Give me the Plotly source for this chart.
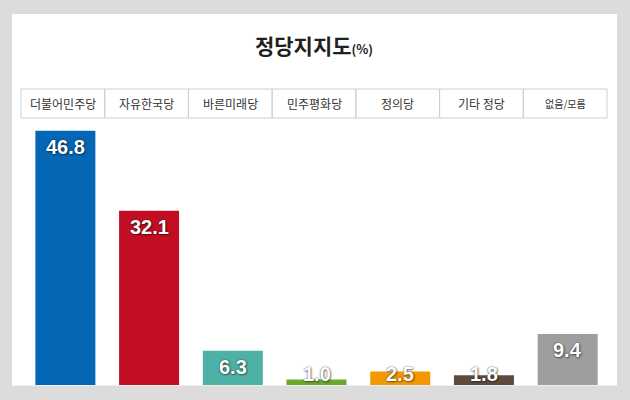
import plotly.graph_objects as go

# Party support survey (%)
parties = ["더불어민주당", "자유한국당", "바른미래당", "민주평화당", "정의당", "기타 정당", "없음/모름"]
support = [46.8, 32.1, 6.3, 1.0, 2.5, 1.8, 9.4]
bar_colors = ["#0467b5", "#c30d23", "#4eb1a6", "#6ca72e", "#f39800", "#5e4b3d", "#9e9e9e"]

# ---- layout geometry (pixels) ----
W, H = 630, 400
PLOT_L, PLOT_R = 21, 607
PLOT_T, PLOT_B = 89, 385
HEADER_B = 118
PANEL = dict(l=12, r=617, t=14, b=385.5)
Y_MAX = 54.5
BAR_SHIFT = 0.03  # bars sit slightly right of the header cells
plot_w = PLOT_R - PLOT_L
plot_h = PLOT_B - PLOT_T
px_per_unit = plot_h / Y_MAX


def px_x(x):
    return (x - PLOT_L) / plot_w


def px_y(y):
    return (PLOT_B - y) / plot_h


header_sizes = [12, 12, 12, 12, 12, 12, 10]
n = len(parties)

fig = go.Figure(
    go.Bar(
        x=parties,
        y=support,
        marker=dict(color=bar_colors, line=dict(width=0)),
        hoverinfo="skip",
    )
)

shapes = [
    # white card
    dict(type="rect", xref="paper", yref="paper", layer="below",
         x0=px_x(PANEL["l"]), x1=px_x(PANEL["r"]),
         y0=px_y(PANEL["b"]), y1=px_y(PANEL["t"]),
         fillcolor="white", line=dict(width=0)),
]

annotations = []

# header row: one bordered cell per party
for i, name in enumerate(parties):
    shapes.append(dict(
        type="rect", xref="paper", yref="paper",
        x0=i / n, x1=(i + 1) / n, y0=px_y(HEADER_B), y1=1,
        line=dict(color="#cfcfcf", width=1), fillcolor="rgba(0,0,0,0)",
    ))
    annotations.append(dict(
        xref="paper", yref="paper", x=(i + 0.5) / n,
        y=(px_y(HEADER_B) + 1) / 2, text=name, showarrow=False,
        xanchor="center", yanchor="middle",
        font=dict(family="Noto Sans CJK KR", size=header_sizes[i], color="#333333"),
    ))

# value labels near the top of each bar, kept above the card's bottom edge
for name, v in zip(parties, support):
    label_y = max(v - 16 / px_per_unit, 11 / px_per_unit)
    annotations.append(dict(
        xref="x", yref="y", x=name, y=label_y, text=f"{v:.1f}",
        showarrow=False, xanchor="center", yanchor="middle",
        font=dict(family="Liberation Sans, Arial", size=20, color="white",
                  weight="bold",
                  shadow="0px 0px 1.5px rgba(0,0,0,0.8), 1px 1px 2px rgba(0,0,0,0.4)"),
    ))

fig.update_layout(
    width=W, height=H,
    margin=dict(l=PLOT_L, r=W - PLOT_R, t=PLOT_T, b=H - PLOT_B),
    paper_bgcolor="#dcdcdc",
    plot_bgcolor="rgba(0,0,0,0)",
    showlegend=False,
    bargap=1 - 60 / (plot_w / n),
    title=dict(
        text="<b>정당지지도</b><span style='font-size:12.5px'><b>(%)</b></span>",
        x=0.5, xref="paper", xanchor="center",
        y=1 - 47 / H, yref="container", yanchor="middle",
        font=dict(family="Noto Sans CJK KR", size=21, color="#231f20"),
    ),
    xaxis=dict(range=[-0.5 - BAR_SHIFT, n - 0.5 - BAR_SHIFT],
               showticklabels=False, showgrid=False, zeroline=False,
               showline=False, ticks="", fixedrange=True),
    yaxis=dict(range=[0, Y_MAX], showticklabels=False, showgrid=False,
               zeroline=False, showline=False, ticks="", fixedrange=True),
    shapes=shapes,
    annotations=annotations,
)

fig.write_html("out.html", config={"displayModeBar": False})
